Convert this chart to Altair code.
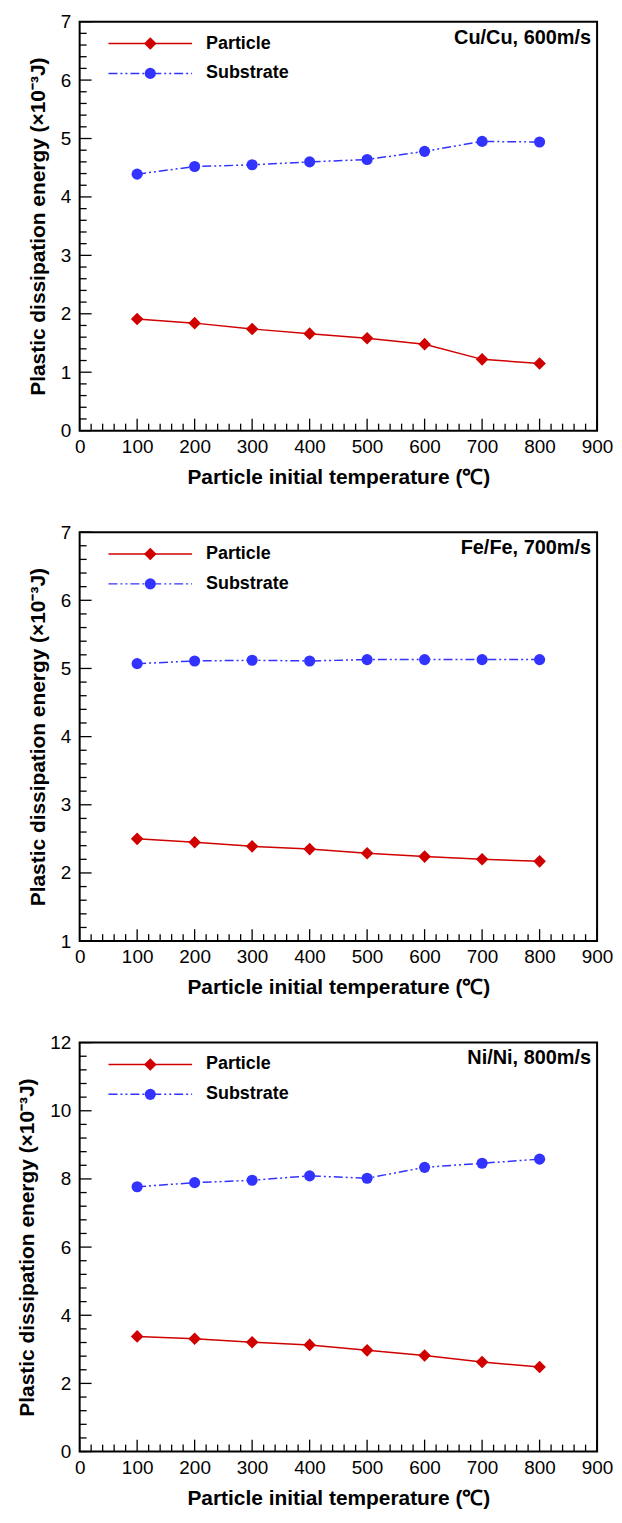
import altair as alt
import pandas as pd
import numpy as np

# ---------------- data ----------------
temps = [100, 200, 300, 400, 500, 600, 700, 800]

cu_particle = [1.91, 1.84, 1.74, 1.66, 1.58, 1.48, 1.22, 1.15]
cu_substrate = [4.39, 4.52, 4.55, 4.60, 4.64, 4.78, 4.95, 4.94]

fe_particle = [2.50, 2.45, 2.39, 2.35, 2.29, 2.24, 2.20, 2.17]
fe_substrate = [5.07, 5.11, 5.12, 5.11, 5.13, 5.13, 5.13, 5.13]

ni_particle = [3.38, 3.31, 3.21, 3.13, 2.97, 2.82, 2.63, 2.48]
ni_substrate = [7.77, 7.89, 7.96, 8.09, 8.02, 8.34, 8.46, 8.58]

panel_labels = ["Cu/Cu, 600m/s", "Fe/Fe, 700m/s", "Ni/Ni, 800m/s"]
series_names = ["Particle", "Substrate"]

x_major = [0, 100, 200, 300, 400, 500, 600, 700, 800, 900]
x_minor_step = 20
# (min, max, major step, minor step) for each panel's y axis
y_axes = [(0, 7, 1, 0.2), (1, 7, 1, 0.2), (0, 12, 2, 0.4)]

x_title = "Particle initial temperature (℃)"
y_title = "Plastic dissipation energy (×10⁻³J)"

# ---------------- style ----------------
W, H = 520, 411
RED = "#D00000"
BLUE = "#3333FF"
FONT = "Liberation Sans"
MAJOR_LEN, MINOR_LEN = 12, 7
DASH = [9, 3, 2, 3, 2, 3]


def panel(label, particle, substrate, yspec):
    ymin, ymax, ystep, yminor = yspec
    xs = alt.Scale(domain=[0, 900], nice=False, zero=False)
    ys = alt.Scale(domain=[ymin, ymax], nice=False, zero=False)
    y_major = [round(float(v), 4) for v in np.arange(ymin, ymax + 1e-9, ystep)]
    y_min_vals = [round(float(v), 4) for v in np.arange(ymin, ymax + 1e-9, yminor)
                  if min(abs(v - m) for m in y_major) > 1e-6]
    x_min_vals = [v for v in range(0, 901, x_minor_step) if v not in x_major]

    xaxis = alt.Axis(values=x_major, format="d", title=x_title, labelPadding=7, titlePadding=10)
    yaxis = alt.Axis(values=y_major, format="d", title=y_title, labelPadding=9, titlePadding=12)

    def X(f):
        return alt.X(f, scale=xs, axis=xaxis)

    def Y(f):
        return alt.Y(f, scale=ys, axis=yaxis)

    dp = pd.DataFrame({"T": temps, "E": particle})
    dsub = pd.DataFrame({"T": temps, "E": substrate})

    p_line = alt.Chart(dp).mark_line(color=RED, strokeWidth=1.5).encode(x=X("T:Q"), y=Y("E:Q"))
    p_pts = alt.Chart(dp).mark_point(shape="diamond", filled=True, size=160, color=RED, opacity=1).encode(
        x=X("T:Q"), y=Y("E:Q"))
    s_line = alt.Chart(dsub).mark_line(color=BLUE, strokeWidth=1.5, strokeDash=DASH).encode(
        x=X("T:Q"), y=Y("E:Q"))
    s_pts = alt.Chart(dsub).mark_circle(size=125, color=BLUE, opacity=1).encode(x=X("T:Q"), y=Y("E:Q"))

    def xt(vals, ln):
        return alt.Chart(pd.DataFrame({"T": vals})).mark_rule(color="black", strokeWidth=1.3).encode(
            x=X("T:Q"), y=alt.value(H), y2=alt.value(H - ln))

    def yt(vals, ln):
        return alt.Chart(pd.DataFrame({"E": vals})).mark_rule(color="black", strokeWidth=1.3).encode(
            y=Y("E:Q"), x=alt.value(0), x2=alt.value(ln))

    one = pd.DataFrame({"k": [0]})
    leg = []
    rows = [(series_names[0], RED, 22, "diamond"), (series_names[1], BLUE, 52, "circle")]
    for name, col, yy, shp in rows:
        if shp == "diamond":
            ln = alt.Chart(one).mark_rule(color=col, strokeWidth=1.5)
            mk = alt.Chart(one).mark_point(shape="diamond", filled=True, size=160, color=col, opacity=1)
        else:
            ln = alt.Chart(one).mark_rule(color=col, strokeWidth=1.5, strokeDash=DASH)
            mk = alt.Chart(one).mark_circle(size=125, color=col, opacity=1)
        leg.append(ln.encode(x=alt.value(29), x2=alt.value(113), y=alt.value(yy)))
        leg.append(mk.encode(x=alt.value(71), y=alt.value(yy)))
        leg.append(alt.Chart(one).mark_text(text=name, align="left", baseline="middle", font=FONT,
                                            fontWeight="bold", fontSize=18, color="black")
                   .encode(x=alt.value(127), y=alt.value(yy)))

    ann = alt.Chart(one).mark_text(text=label, align="right", baseline="middle", font=FONT,
                                   fontWeight="bold", fontSize=20, color="black").encode(
        x=alt.value(W - 6), y=alt.value(16))

    return alt.layer(
        p_line, xt(x_major, MAJOR_LEN), xt(x_min_vals, MINOR_LEN),
        yt(y_major, MAJOR_LEN), yt(y_min_vals, MINOR_LEN),
        s_line, s_pts, p_pts, *leg, ann
    ).properties(width=W, height=H)


panels = [
    panel(panel_labels[0], cu_particle, cu_substrate, y_axes[0]),
    panel(panel_labels[1], fe_particle, fe_substrate, y_axes[1]),
    panel(panel_labels[2], ni_particle, ni_substrate, y_axes[2]),
]

chart = alt.vconcat(*panels, spacing=34).properties(
    padding={"left": 7, "top": 0, "right": 0, "bottom": 0}
).configure_view(
    stroke="black", strokeWidth=2
).configure_axis(
    labelFont=FONT, labelFontSize=19, labelColor="black",
    titleFont=FONT, titleFontSize=21, titleFontWeight="bold", titleColor="black",
    ticks=False, domain=False, grid=False, labelFlush=False
)

chart.save("out.html", embed_options={"renderer": "svg", "actions": False})
